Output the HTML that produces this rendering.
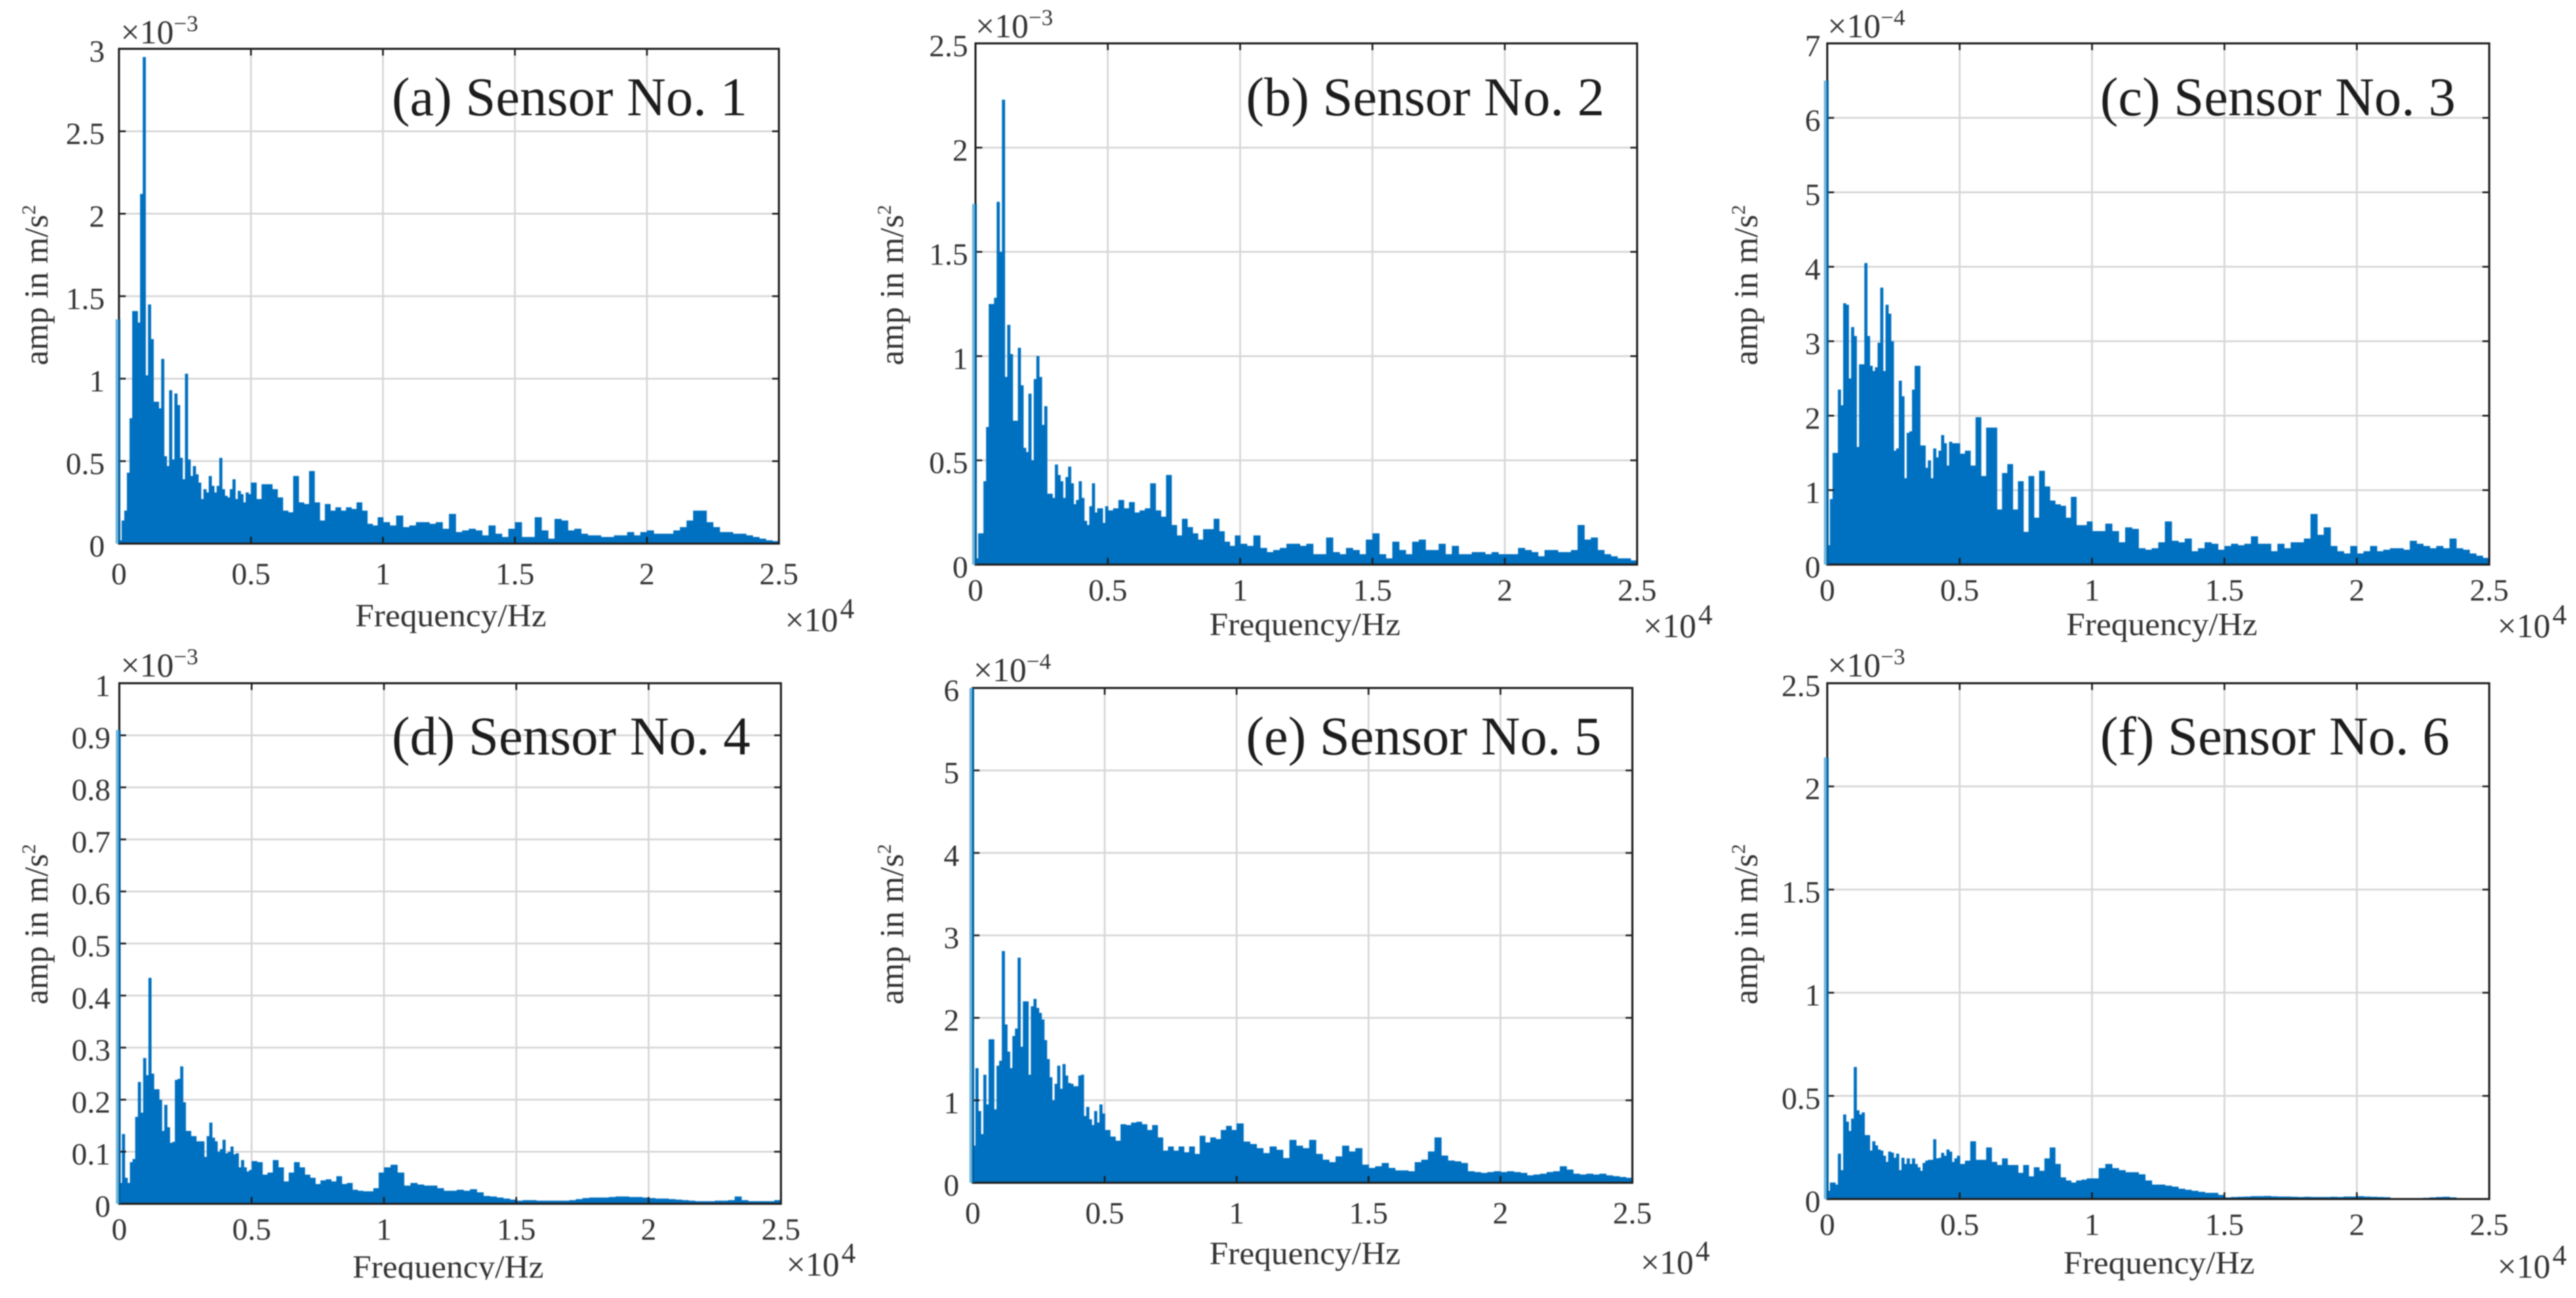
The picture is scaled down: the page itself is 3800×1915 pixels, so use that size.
<!DOCTYPE html>
<html lang="en">
<head>
<meta charset="utf-8">
<title>Frequency spectra of six sensors</title>
<style>
  html, body { margin: 0; padding: 0; background: #fff; }
  #figure { display: block; width: 3800px; height: 1915px; filter: blur(0.8px); }
  text { font-family: "Liberation Serif", "Times New Roman", serif; fill: #333; }
  .title { font-size: 80px; fill: #1c1c1c; }
  .tick { font-size: 46px; }
  .axis-label { font-size: 50px; }
  .xlab { font-size: 48px; }
  .exp { font-size: 50px; }
  .exp .sup { font-size: 34px; }
  .expx { font-size: 50px; }
  .expx .sup { font-size: 42px; }
  .ylab .sup { font-size: 29px; }
</style>
</head>
<body>
<svg id="figure" xmlns="http://www.w3.org/2000/svg" width="3800" height="1915" viewBox="0 0 3800 1915">
  <rect x="0" y="0" width="3800" height="1915" fill="#fff"/>

  <g id="panel-a">
    <g class="marks"></g>
    <text class="title" x="578" y="170">(a) Sensor No. 1</text>
    <text class="xlab" x="665" y="924" text-anchor="middle" textLength="282" lengthAdjust="spacingAndGlyphs">Frequency/Hz</text>
    <text class="axis-label ylab" transform="translate(70 539) rotate(-90)">amp in m/s<tspan class="sup" dy="-18">2</tspan></text>
    <text class="exp" x="178" y="64">×10<tspan class="sup" dy="-18">−3</tspan></text>
    <text class="expx" x="1158" y="931">×10<tspan class="sup" dx="3" dy="-19">4</tspan></text>
  </g>

  <g id="panel-b">
    <g class="marks"></g>
    <text class="title" x="1838" y="170">(b) Sensor No. 2</text>
    <text class="xlab" x="1925" y="937" text-anchor="middle" textLength="282" lengthAdjust="spacingAndGlyphs">Frequency/Hz</text>
    <text class="axis-label ylab" transform="translate(1332 539) rotate(-90)">amp in m/s<tspan class="sup" dy="-18">2</tspan></text>
    <text class="exp" x="1439" y="55">×10<tspan class="sup" dy="-18">−3</tspan></text>
    <text class="expx" x="2424" y="940">×10<tspan class="sup" dx="3" dy="-19">4</tspan></text>
  </g>

  <g id="panel-c">
    <g class="marks"></g>
    <text class="title" x="3098" y="170">(c) Sensor No. 3</text>
    <text class="xlab" x="3189" y="937" text-anchor="middle" textLength="282" lengthAdjust="spacingAndGlyphs">Frequency/Hz</text>
    <text class="axis-label ylab" transform="translate(2592 539) rotate(-90)">amp in m/s<tspan class="sup" dy="-18">2</tspan></text>
    <text class="exp" x="2696" y="55">×10<tspan class="sup" dy="-18">−4</tspan></text>
    <text class="expx" x="3684" y="940">×10<tspan class="sup" dx="3" dy="-19">4</tspan></text>
  </g>

  <g id="panel-d">
    <g class="marks"></g>
    <text class="title" x="578" y="1113">(d) Sensor No. 4</text>
    <text class="xlab" x="661" y="1885" text-anchor="middle" textLength="282" lengthAdjust="spacingAndGlyphs">Frequency/Hz</text>
    <text class="axis-label ylab" transform="translate(70 1482) rotate(-90)">amp in m/s<tspan class="sup" dy="-18">2</tspan></text>
    <text class="exp" x="178" y="998">×10<tspan class="sup" dy="-18">−3</tspan></text>
    <text class="expx" x="1160" y="1882">×10<tspan class="sup" dx="3" dy="-19">4</tspan></text>
    <rect x="500" y="1888" width="340" height="27" fill="#fff"/>
  </g>

  <g id="panel-e">
    <g class="marks"></g>
    <text class="title" x="1838" y="1113">(e) Sensor No. 5</text>
    <text class="xlab" x="1925" y="1865" text-anchor="middle" textLength="282" lengthAdjust="spacingAndGlyphs">Frequency/Hz</text>
    <text class="axis-label ylab" transform="translate(1332 1482) rotate(-90)">amp in m/s<tspan class="sup" dy="-18">2</tspan></text>
    <text class="exp" x="1436" y="1005">×10<tspan class="sup" dy="-18">−4</tspan></text>
    <text class="expx" x="2420" y="1879">×10<tspan class="sup" dx="3" dy="-19">4</tspan></text>
  </g>

  <g id="panel-f">
    <g class="marks"></g>
    <text class="title" x="3098" y="1113">(f) Sensor No. 6</text>
    <text class="xlab" x="3185" y="1879" text-anchor="middle" textLength="282" lengthAdjust="spacingAndGlyphs">Frequency/Hz</text>
    <text class="axis-label ylab" transform="translate(2592 1482) rotate(-90)">amp in m/s<tspan class="sup" dy="-18">2</tspan></text>
    <text class="exp" x="2696" y="998">×10<tspan class="sup" dy="-18">−3</tspan></text>
    <text class="expx" x="3684" y="1885">×10<tspan class="sup" dx="3" dy="-19">4</tspan></text>
  </g>
</svg>

<script>
// Frequency bins (Hz), lower edge of each bar
const freqHz = [
  0,100,200,300,400,500,600,700,800,900,1000,1100,1200,1300,1400,1500,1600,1700,1800,1900,
  2000,2100,2200,2300,2400,2500,2600,2700,2800,2900,3000,3100,3200,3300,3400,3500,3600,3700,3800,3900,
  4000,4100,4200,4300,4400,4500,4600,4700,4800,4900,
  5000,5200,5400,5600,5800,6000,6200,6400,6600,6800,7000,7200,7400,7600,7800,8000,8200,8400,8600,8800,9000,9200,9400,9600,9800,
  10000,10250,10500,10750,11000,11250,11500,11750,12000,12250,12500,12750,13000,13250,13500,13750,
  14000,14250,14500,14750,15000,15250,15500,15750,16000,16250,16500,16750,17000,17250,17500,17750,
  18000,18250,18500,18750,19000,19250,19500,19750,20000,20250,20500,20750,21000,21250,21500,21750,
  22000,22250,22500,22750,23000,23250,23500,23750,24000,24250,24500,24750
];
const freqMaxHz = 25000;
const xTickValues = [0,5000,10000,15000,20000,25000];
const xTickLabels = ['0','0.5','1','1.5','2','2.5'];

// Amplitude series, in the unit of each panel's axis
const ampSensor1 = [
  .02,.14,.2,.43,.76,1.41,1.41,1.34,2.12,2.95,
  1.02,1.45,1.24,.86,.86,.82,1.12,.53,.47,.93,
  .51,.91,.84,.52,.39,1.03,.51,.41,.47,.42,
  .37,.27,.33,.31,.41,.35,.31,.35,.52,.33,
  .29,.28,.33,.39,.27,.32,.30,.25,.31,.30,
  .37,.27,.36,.36,.33,.28,.20,.19,.41,.25,.24,.44,.25,.14,.24,.20,.22,.20,.22,.21,.25,.20,.12,.11,.16,
  .13,.11,.17,.10,.11,.13,.13,.12,.13,.09,.18,.07,.08,.09,.08,.05,
  .11,.06,.04,.09,.13,.04,.04,.16,.08,.03,.15,.14,.08,.09,.06,.05,
  .05,.04,.04,.05,.05,.07,.05,.07,.08,.06,.06,.06,.08,.10,.14,.20,
  .20,.13,.10,.07,.07,.06,.06,.05,.04,.03,.02,.015
];
const ampSensor2 = [
  .03,.15,.15,.40,.66,1.25,1.25,1.28,1.74,1.50,
  2.23,.90,1.15,1.01,.69,.69,1.04,.86,.56,.54,
  .82,.50,.89,1.0,.90,.67,.76,.34,.34,.32,
  .48,.43,.40,.32,.42,.47,.39,.29,.31,.40,
  .32,.21,.19,.28,.39,.25,.27,.27,.20,.28,
  .26,.27,.31,.27,.30,.25,.26,.27,.39,.26,.23,.43,.19,.14,.22,.18,.15,.12,.17,.17,.22,.16,.11,.09,.14,
  .10,.09,.14,.08,.06,.07,.08,.10,.10,.09,.10,.05,.05,.13,.06,.05,
  .08,.07,.05,.12,.15,.05,.03,.11,.07,.05,.11,.12,.07,.07,.10,.05,
  .09,.05,.05,.06,.06,.05,.06,.05,.05,.05,.08,.07,.06,.04,.07,.07,
  .06,.06,.07,.19,.12,.13,.07,.05,.04,.03,.03,.02
];
const ampSensor3 = [
  .26,.88,1.5,1.5,2.35,2.14,3.51,3.49,2.5,3.19,
  3.07,1.58,2.69,2.69,4.05,3.07,2.67,2.6,2.65,2.98,
  3.72,2.6,3.49,3.37,3.0,1.53,1.56,2.47,2.26,1.16,
  1.77,1.79,2.35,2.67,2.67,1.6,1.6,1.3,1.4,1.16,
  1.56,1.44,1.53,1.74,1.63,1.33,1.65,1.63,1.63,1.63,
  1.49,1.53,1.33,1.98,1.19,1.84,1.84,.74,1.23,1.35,.74,1.12,.44,1.19,.63,1.26,1.05,.86,.81,.79,.63,.91,.53,.53,.58,
  .45,.45,.55,.45,.30,.50,.48,.22,.20,.22,.30,.58,.32,.30,.35,.18,
  .22,.30,.28,.20,.25,.28,.26,.28,.38,.28,.28,.18,.28,.22,.30,.30,
  .35,.68,.40,.50,.25,.18,.15,.25,.15,.18,.25,.18,.20,.22,.22,.20,
  .32,.28,.25,.22,.25,.22,.35,.22,.20,.15,.12,.09
];
const ampSensor4 = [
  .04,.134,.05,.04,.08,.086,.167,.234,.175,.28,
  .247,.434,.25,.22,.22,.20,.14,.19,.147,.117,
  .119,.238,.24,.264,.195,.14,.14,.13,.13,.12,
  .12,.12,.09,.13,.156,.127,.12,.10,.105,.123,
  .097,.10,.11,.095,.097,.07,.084,.07,.062,.065,
  .082,.08,.056,.06,.084,.07,.043,.06,.08,.07,.056,.05,.038,.045,.047,.043,.053,.038,.04,.027,.025,.024,.024,.03,.06,
  .07,.075,.06,.035,.04,.037,.035,.035,.03,.025,.025,.027,.025,.028,.022,.015,
  .014,.012,.01,.008,.006,.007,.007,.006,.006,.006,.006,.006,.007,.009,.011,.012,
  .012,.012,.013,.014,.014,.013,.013,.012,.011,.010,.010,.009,.008,.007,.006,.005,
  .005,.005,.006,.006,.007,.014,.007,.005,.005,.005,.005,.007
];
const ampSensor5 = [
  .45,1.39,.87,.59,1.31,.95,1.74,1.74,.89,1.42,
  1.48,2.81,1.92,1.59,1.39,1.78,1.87,2.73,1.65,2.2,
  2.2,1.31,2.14,2.23,2.12,2.06,1.98,1.73,1.5,1.28,
  1.0,1.2,1.42,1.14,1.44,1.3,1.21,1.2,1.17,1.17,
  1.3,1.31,.81,.92,.77,.7,.87,.73,.95,.84,
  .64,.56,.51,.71,.70,.73,.74,.71,.64,.70,.55,.39,.44,.39,.44,.37,.44,.35,.57,.49,.55,.53,.64,.69,.64,
  .72,.50,.47,.42,.36,.44,.40,.30,.52,.45,.42,.52,.35,.28,.25,.32,
  .45,.38,.42,.22,.18,.20,.24,.18,.15,.15,.14,.25,.28,.38,.55,.33,
  .27,.26,.24,.14,.13,.12,.13,.14,.13,.14,.13,.12,.09,.10,.11,.13,
  .14,.20,.16,.11,.10,.11,.10,.11,.09,.08,.07,.06
];
const ampSensor6 = [
  .04,.08,.08,.07,.22,.14,.41,.375,.33,.39,
  .64,.43,.41,.42,.31,.31,.235,.28,.26,.24,
  .235,.21,.18,.23,.225,.20,.22,.14,.20,.17,
  .197,.17,.197,.17,.154,.137,.175,.186,.19,.19,
  .29,.197,.20,.224,.21,.24,.23,.18,.197,.21,
  .17,.186,.28,.19,.19,.25,.18,.165,.197,.165,.165,.127,.165,.11,.154,.137,.197,.25,.17,.105,.09,.08,.09,.094,.10,
  .10,.15,.17,.15,.14,.13,.13,.12,.09,.07,.07,.065,.06,.05,.045,.04,
  .035,.03,.03,.02,.008,.01,.011,.012,.014,.014,.015,.013,.012,.012,.011,.01,
  .011,.01,.01,.01,.011,.01,.012,.012,.014,.012,.011,.01,.009,.005,.003,.003,
  .002,.003,.006,.008,.01,.011,.008,.005,.004,.003,.002,.002
];

// Amplitude of the bar at 0 Hz in each panel
const dcSpike = [1.36,1.73,6.5,.91,6,2.14];

// Y axis ticks for each panel
const yTicksSensor1 = [0,.5,1,1.5,2,2.5,3];
const yLabelsSensor1 = ['0','0.5','1','1.5','2','2.5','3'];
const yTicksSensor2 = [0,.5,1,1.5,2,2.5];
const yLabelsSensor2 = ['0','0.5','1','1.5','2','2.5'];
const yTicksSensor3 = [0,1,2,3,4,5,6,7];
const yLabelsSensor3 = ['0','1','2','3','4','5','6','7'];
const yTicksSensor4 = [0,.1,.2,.3,.4,.5,.6,.7,.8,.9,1];
const yLabelsSensor4 = ['0','0.1','0.2','0.3','0.4','0.5','0.6','0.7','0.8','0.9','1'];
const yTicksSensor5 = [0,1,2,3,4,5,6];
const yLabelsSensor5 = ['0','1','2','3','4','5','6'];
const yTicksSensor6 = [0,.5,1,1.5,2,2.5];
const yLabelsSensor6 = ['0','0.5','1','1.5','2','2.5'];

// Frame geometry of each axes box, separate from the data
const panels = [
  {id:'panel-a', left:175.5, right:1149, top:72,   bottom:802,  labelGap:21, xLabelDrop:60, amp:ampSensor1, spike:dcSpike[0], yTicks:yTicksSensor1, yLabels:yLabelsSensor1},
  {id:'panel-b', left:1439,  right:2415, top:64,   bottom:833,  labelGap:11, xLabelDrop:53, amp:ampSensor2, spike:dcSpike[1], yTicks:yTicksSensor2, yLabels:yLabelsSensor2},
  {id:'panel-c', left:2695.5,right:3672, top:64,   bottom:833,  labelGap:10, xLabelDrop:53, amp:ampSensor3, spike:dcSpike[2], yTicks:yTicksSensor3, yLabels:yLabelsSensor3},
  {id:'panel-d', left:176,   right:1152, top:1008, bottom:1776, labelGap:13, xLabelDrop:53, amp:ampSensor4, spike:dcSpike[3], yTicks:yTicksSensor4, yLabels:yLabelsSensor4},
  {id:'panel-e', left:1435,  right:2408, top:1015, bottom:1745, labelGap:20, xLabelDrop:60, amp:ampSensor5, spike:dcSpike[4], yTicks:yTicksSensor5, yLabels:yLabelsSensor5},
  {id:'panel-f', left:2695.5,right:3672, top:1008, bottom:1769, labelGap:10, xLabelDrop:53, amp:ampSensor6, spike:dcSpike[5], yTicks:yTicksSensor6, yLabels:yLabelsSensor6}
];

const NS = 'http://www.w3.org/2000/svg';
const BAR_COLOR = '#0070c0';
const GRID_COLOR = '#d6d6d6';
const AXIS_COLOR = '#1e1e1e';

function makeLine(x1, y1, x2, y2, color, width) {
  const el = document.createElementNS(NS, 'line');
  el.setAttribute('x1', x1);
  el.setAttribute('y1', y1);
  el.setAttribute('x2', x2);
  el.setAttribute('y2', y2);
  el.setAttribute('stroke', color);
  el.setAttribute('stroke-width', width);
  return el;
}

function drawPanel(p) {
  const root = document.querySelector('#' + p.id + ' .marks');
  const yMax = p.yTicks[p.yTicks.length - 1];
  const xScale = function (f) { return p.left + (f / freqMaxHz) * (p.right - p.left); };
  const yScale = function (v) { return p.bottom - (v / yMax) * (p.bottom - p.top); };

  // grid lines
  xTickValues.forEach(function (f) {
    if (f === 0 || f === freqMaxHz) return;
    const g = makeLine(xScale(f), p.top, xScale(f), p.bottom, GRID_COLOR, 2.6);
    
    
    root.appendChild(g);
  });
  p.yTicks.forEach(function (v) {
    if (v === 0 || v === yMax) return;
    const g = makeLine(p.left, yScale(v), p.right, yScale(v), GRID_COLOR, 2.6);
    
    
    root.appendChild(g);
  });

  // spectrum bars, each overlapping its neighbour slightly so no seams show
  p.amp.forEach(function (v, i) {
    const x0 = xScale(freqHz[i]);
    const next = i + 1 < freqHz.length ? freqHz[i + 1] : freqMaxHz;
    const x1 = xScale(next);
    const overlap = i + 1 < freqHz.length ? 0.7 : 0;
    const bar = document.createElementNS(NS, 'rect');
    
    
    bar.setAttribute('x', x0);
    bar.setAttribute('y', yScale(v));
    bar.setAttribute('width', Math.max(x1 - x0 + overlap, 0));
    bar.setAttribute('height', p.bottom - yScale(v));
    bar.setAttribute('fill', BAR_COLOR);
    root.appendChild(bar);
  });

  // axes box
  const frame = document.createElementNS(NS, 'rect');
  
  
  frame.setAttribute('x', p.left);
  frame.setAttribute('y', p.top);
  frame.setAttribute('width', p.right - p.left);
  frame.setAttribute('height', p.bottom - p.top);
  frame.setAttribute('fill', 'none');
  frame.setAttribute('stroke', AXIS_COLOR);
  frame.setAttribute('stroke-width', 3);
  root.appendChild(frame);

  // x ticks and labels
  xTickValues.forEach(function (f, i) {
    const tickBottom = makeLine(xScale(f), p.bottom, xScale(f), p.bottom - 10, AXIS_COLOR, 2.6);
    
    
    root.appendChild(tickBottom);
    const tickTop = makeLine(xScale(f), p.top, xScale(f), p.top + 10, AXIS_COLOR, 2.6);
    
    
    root.appendChild(tickTop);
    const t = document.createElementNS(NS, 'text');
    
    
    t.setAttribute('class', 'tick');
    t.setAttribute('x', xScale(f));
    t.setAttribute('y', p.bottom + p.xLabelDrop);
    t.setAttribute('text-anchor', 'middle');
    t.textContent = xTickLabels[i];
    root.appendChild(t);
  });

  // y ticks and labels
  p.yTicks.forEach(function (v, i) {
    const tickLeft = makeLine(p.left, yScale(v), p.left + 10, yScale(v), AXIS_COLOR, 2.6);
    
    
    root.appendChild(tickLeft);
    const tickRight = makeLine(p.right, yScale(v), p.right - 10, yScale(v), AXIS_COLOR, 2.6);
    
    
    root.appendChild(tickRight);
    const t = document.createElementNS(NS, 'text');
    
    
    t.setAttribute('class', 'tick');
    t.setAttribute('x', p.left - p.labelGap);
    t.setAttribute('y', yScale(v) + 19);
    t.setAttribute('text-anchor', 'end');
    t.textContent = p.yLabels[i];
    root.appendChild(t);
  });

  // 0 Hz bar straddles the left axis, drawn over the frame
  const spikeHalo = document.createElementNS(NS, 'rect');
  
  
  spikeHalo.setAttribute('x', p.left - 5);
  spikeHalo.setAttribute('y', yScale(p.spike));
  spikeHalo.setAttribute('width', 4);
  spikeHalo.setAttribute('height', p.bottom - yScale(p.spike));
  spikeHalo.setAttribute('fill', '#6fb6de');
  root.appendChild(spikeHalo);
  const spikeCore = document.createElementNS(NS, 'rect');
  
  
  spikeCore.setAttribute('x', p.left - 1);
  spikeCore.setAttribute('y', yScale(p.spike));
  spikeCore.setAttribute('width', 3);
  spikeCore.setAttribute('height', p.bottom - yScale(p.spike));
  spikeCore.setAttribute('fill', '#00609f');
  root.appendChild(spikeCore);
}

panels.forEach(drawPanel);
</script>
</body>
</html>
